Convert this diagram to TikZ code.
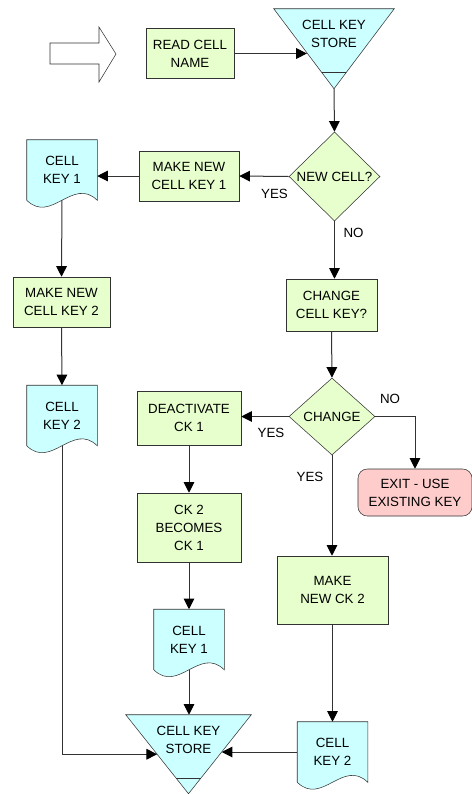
\documentclass[tikz,border=0pt]{standalone}
\usepackage{fontspec}
\setmainfont{Liberation Sans}
\usetikzlibrary{shapes.geometric,arrows.meta,calc,backgrounds}
\definecolor{procgreen}{RGB}{230,255,204}
\definecolor{keyblue}{RGB}{204,255,255}
\definecolor{exitpink}{RGB}{255,204,204}
\definecolor{linegray}{RGB}{50,50,50}
\tikzset{
  proc/.style={rectangle, draw=linegray, fill=procgreen, inner sep=0pt, align=center},
  decide/.style={diamond, draw=linegray, fill=procgreen, inner sep=0pt, align=center},
  keydoc/.style={rectangle, inner sep=0pt, minimum width=52.5pt, minimum height=45pt, align=center},
  keystore/.style={rectangle, inner sep=0pt, align=center},
  flow/.style={draw=linegray, line width=0.75pt, -{Triangle[length=8pt,width=8pt,color=black]}},
  lbl/.style={inner sep=0pt}
}
\begin{document}
\begin{tikzpicture}[x=0.75pt, y=-0.75pt, every node/.style={font=\fontsize{10}{13.5}\selectfont}]
  \useasboundingbox (0,0) rectangle (472,794);

  % entry arrow
  \draw[linegray, fill=white] (50,43) -- (99,43) -- (99,27) -- (116,54) -- (99,82) -- (99,64) -- (50,64) -- cycle;

  \node (read)    at (190,53.5)  [proc, minimum width=66pt, minimum height=37.5pt] {READ CELL\\NAME};
  \node (store1)  at (334,33.5)  [keystore, minimum width=90pt, minimum height=36.75pt] {CELL KEY\\STORE};
  \node (newcell) at (334.5,176.5) [decide, minimum width=68.25pt, minimum height=66.75pt] {NEW CELL?};
  \node (mk1)     at (189,176)   [proc, minimum width=75pt, minimum height=37.5pt] {MAKE NEW\\CELL KEY 1};
  \node (ck1)     at (62,170)    [keydoc] {CELL\\KEY 1};
  \node (mk2)     at (61.5,302)  [proc, minimum width=72.75pt, minimum height=37.5pt] {MAKE NEW\\CELL KEY 2};
  \node (ck2)     at (62,415.5)  [keydoc] {CELL\\KEY 2};
  \node (chg)     at (331.5,305) [proc, minimum width=68.25pt, minimum height=39pt] {CHANGE\\CELL KEY?};
  \node (change)  at (332,416.5) [decide, minimum width=64.5pt, minimum height=57.75pt] {CHANGE};
  \node (exit)    at (415,492.5) [proc, fill=exitpink, rounded corners=7pt, minimum width=85.5pt, minimum height=35.25pt] {EXIT - USE\\EXISTING KEY};
  \node (deact)   at (189,418)   [proc, minimum width=78pt, minimum height=40.5pt] {DEACTIVATE\\CK 1};
  \node (becomes) at (189,527.5) [proc, minimum width=78pt, minimum height=51.75pt] {CK 2\\BECOMES\\CK 1};
  \node (mknew2)  at (332.5,590) [proc, minimum width=83.25pt, minimum height=51pt] {MAKE\\NEW CK 2};
  \node (ck1b)    at (189,639.5) [keydoc] {CELL\\KEY 1};
  \node (ck2b)    at (332.5,752) [keydoc] {CELL\\KEY 2};
  \node (store2)  at (188.5,740) [keystore, minimum width=93.75pt, minimum height=37.5pt] {CELL KEY\\STORE};

  \node (yes1) at (274.5,194) [lbl] {YES};
  \node (no1)  at (353.5,233) [lbl] {NO};
  \node (no2)  at (390,399)   [lbl] {NO};
  \node (yes2) at (271,433)   [lbl] {YES};
  \node (yes3) at (310,477)   [lbl] {YES};

  \coordinate (s1apex) at ($(store1.north)+(0,80)$);
  \coordinate (s1in)   at ($(store1.north west)!0.55!(s1apex)$);
  \coordinate (s2apex) at ($(store2.north)+(0,79)$);
  \coordinate (s2left) at ($(store2.north west)!0.5!(s2apex)$);
  \coordinate (s2right) at ($(store2.north east)!0.47!(s2apex)$);

  \begin{scope}[on background layer]
    \foreach \d in {ck1,ck2,ck1b,ck2b}
      \filldraw[draw=linegray, fill=keyblue] (\d.north west) -- (\d.north east) -- (\d.south east)
        .. controls ($(\d.south east)+(-24.5,-24)$) and ($(\d.south west)+(24.5,24)$) .. (\d.south west) -- cycle;
    \foreach \s in {1,2} {
      \filldraw[draw=linegray, fill=keyblue] (store\s.north west) -- (store\s.north east) -- (s\s apex) -- cycle;
      \draw[linegray] ($(store\s.north west)!0.8!(s\s apex)$) -- ($(store\s.north east)!0.8!(s\s apex)$);
    }
  \end{scope}

  \draw[flow] (read.east) -- (read.east -| s1in);
  \draw[flow] (s1apex) -- (newcell.north);
  \draw[flow] (newcell.west) -- (mk1.east);
  \draw[flow] (mk1.west) -- (mk1.west -| ck1.east);
  \draw[flow] (ck1.south) -- (mk2.north);
  \draw[flow] (mk2.south) -- (ck2.north);
  \draw[flow] (ck2.south) |- (s2left);
  \draw[flow] (newcell.south) -- (newcell.south |- chg.north);
  \draw[flow] (chg.south) -- (change.north);
  \draw[flow] (change.west) -- (change.west -| deact.east);
  \draw[flow] (change.east) -| (exit.north);
  \draw[flow] (change.south) -- (change.south |- mknew2.north);
  \draw[flow] (deact.south) -- (becomes.north);
  \draw[flow] (becomes.south) -- (ck1b.north);
  \draw[flow] (ck1b.south) -- (ck1b.south |- store2.north);
  \draw[flow] (mknew2.south) -- (mknew2.south |- ck2b.north);
  \draw[flow] (ck2b.west) -- (ck2b.west -| s2right);
\end{tikzpicture}
\end{document}
